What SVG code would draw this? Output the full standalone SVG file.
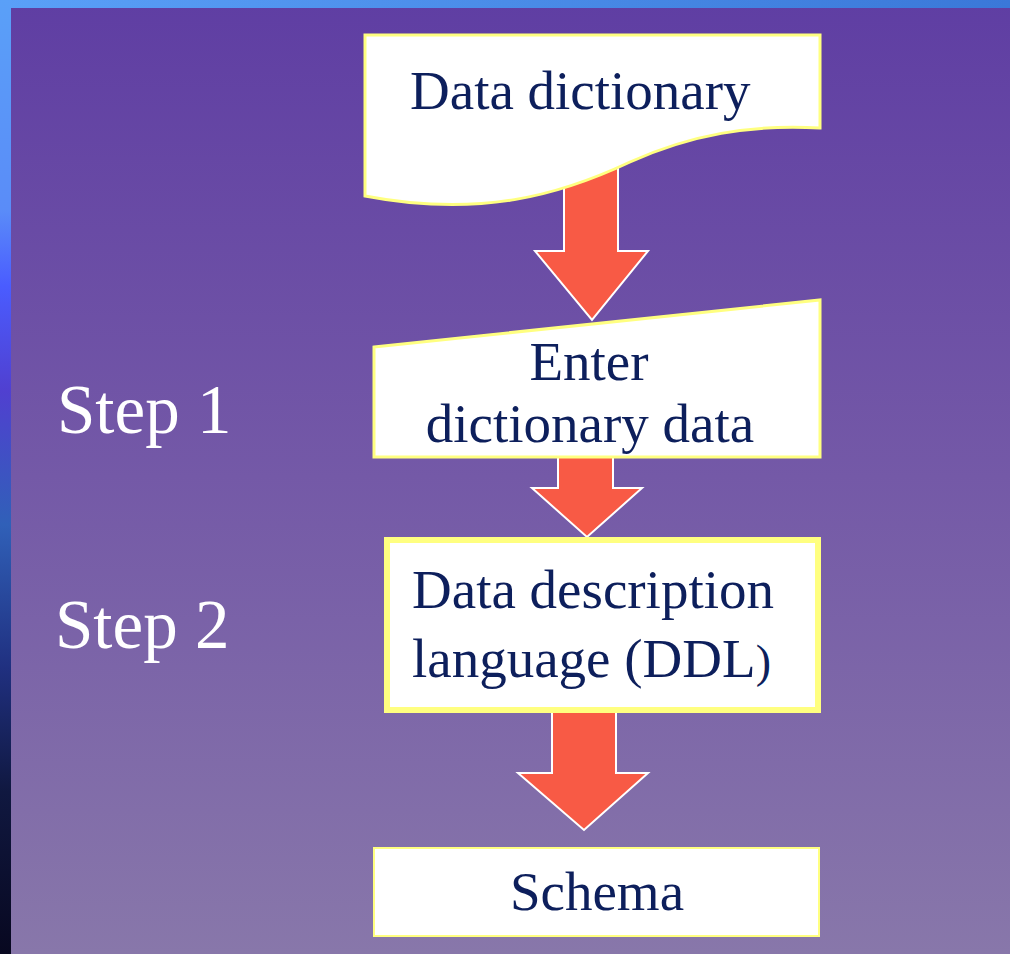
<svg xmlns="http://www.w3.org/2000/svg" width="1010" height="954" viewBox="0 0 1010 954" font-family="Liberation Serif, serif">
  <defs>
    <linearGradient id="bg" x1="0" y1="0" x2="0" y2="1">
      <stop offset="0" stop-color="#5f3ea3"/>
      <stop offset="0.5" stop-color="#7459a7"/>
      <stop offset="1" stop-color="#8877aa"/>
    </linearGradient>
    <linearGradient id="edge" x1="0" y1="0" x2="0" y2="1">
      <stop offset="0" stop-color="#5aa0f8"/>
      <stop offset="0.22" stop-color="#5a8cf8"/>
      <stop offset="0.3" stop-color="#4a5cff"/>
      <stop offset="0.41" stop-color="#5040d0"/>
      <stop offset="0.55" stop-color="#3060b8"/>
      <stop offset="0.7" stop-color="#203080"/>
      <stop offset="0.83" stop-color="#101840"/>
      <stop offset="1" stop-color="#080820"/>
    </linearGradient>
    <linearGradient id="topedge" x1="0" y1="0" x2="1" y2="0">
      <stop offset="0" stop-color="#5aa0f8"/>
      <stop offset="1" stop-color="#3a78d8"/>
    </linearGradient>
  </defs>
  <style>
    .box { fill: #ffffff; stroke: #ffff80; }
    .lbl { font-size: 55px; fill: #0d1f5c; }
    .step { font-size: 69px; fill: #ffffff; }
    .arrow { fill: #f85a45; stroke: #ffffff; stroke-width: 2; stroke-linejoin: miter; }
  </style>

  <rect x="0" y="0" width="1010" height="954" fill="url(#bg)"/>
  <rect x="0" y="0" width="1010" height="8" fill="url(#topedge)"/>
  <rect x="0" y="0" width="11" height="954" fill="url(#edge)"/>

  <g id="connectors">
    <path class="arrow" d="M564,160 H618 V251 H648 L592,320 L535,251 H564 Z"/>
    <path class="arrow" d="M558,457 H613 V488 H642 L587,537 L532,488 H558 Z"/>
    <path class="arrow" d="M552,712 H616 V773 H648 L584,830 L518,773 H552 Z"/>
  </g>

  <g id="node-data-dictionary">
    <path class="box" stroke-width="3" d="M365,35 H820 V128 C750,124 690,135 630,162 C560,195 480,218 365,196 Z"/>
    <text class="lbl" x="410" y="109">Data dictionary</text>
  </g>

  <g id="node-enter">
    <path class="box" stroke-width="3" d="M374,347 L820,300 V457 H374 Z"/>
    <text class="lbl" x="589" y="380" text-anchor="middle">Enter</text>
    <text class="lbl" x="590" y="442" text-anchor="middle">dictionary data</text>
  </g>

  <g id="node-ddl">
    <rect class="box" stroke-width="6" x="387" y="540" width="431" height="170"/>
    <text class="lbl" x="412" y="608">Data description</text>
    <text class="lbl" x="412" y="677">language (DDL<tspan font-size="46">)</tspan></text>
  </g>

  <g id="node-schema">
    <rect class="box" stroke-width="2" x="374" y="848" width="445" height="88"/>
    <text class="lbl" x="597" y="910" text-anchor="middle">Schema</text>
  </g>

  <g id="step-labels">
    <text class="step" x="57" y="433">Step 1</text>
    <text class="step" x="55" y="648">Step 2</text>
  </g>
</svg>
